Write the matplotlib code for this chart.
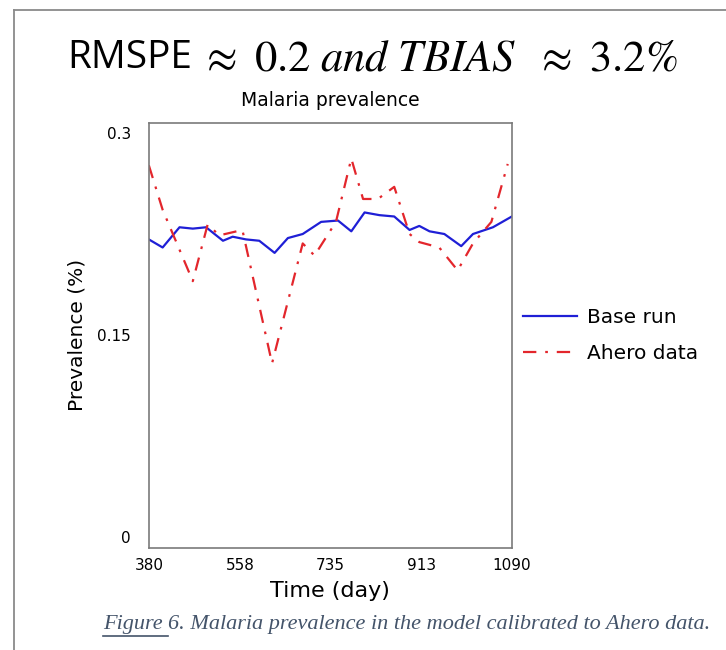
import matplotlib
matplotlib.use('Agg')
import matplotlib.pyplot as plt
from matplotlib.lines import Line2D

# model output (base run)
base_days = [380, 407, 440, 466, 492, 525, 544, 570, 596, 626, 652, 681, 717, 750,
             776, 802, 831, 860, 890, 909, 929, 958, 991, 1014, 1053, 1090]
base_prev = [0.221, 0.215, 0.230, 0.229, 0.230, 0.220, 0.223, 0.221, 0.220, 0.211,
             0.222, 0.225, 0.234, 0.235, 0.227, 0.241, 0.239, 0.238, 0.228, 0.231,
             0.227, 0.225, 0.216, 0.225, 0.230, 0.238]

# observed data (Ahero)
ahero_days = [380, 407, 466, 495, 518, 563, 621, 681, 704, 746, 776, 799, 828, 860,
              890, 909, 948, 984, 1014, 1050, 1082]
ahero_prev = [0.276, 0.243, 0.190, 0.232, 0.224, 0.228, 0.129, 0.218, 0.209, 0.234,
              0.281, 0.251, 0.251, 0.260, 0.225, 0.219, 0.215, 0.198, 0.218, 0.234, 0.277]

xticks = [380, 558, 735, 913, 1090]
yticks = [0, 0.15, 0.3]
ytick_labels = ['0', '0.15', '0.3']

plt.rcParams['font.family'] = ['DejaVu Sans']
plt.rcParams['mathtext.fontset'] = 'stix'

W, H = 726, 650
fig = plt.figure(figsize=(7.26, 6.5), dpi=100)
ax = fig.add_axes([0.205, 0.157, 0.5, 0.654])

ax.plot(base_days, base_prev, color='#1f1fd6', lw=1.6, label='Base run')
ax.plot(ahero_days, ahero_prev, color='#e3262c', lw=1.6,
        linestyle=(0, (6, 4, 1.2, 4)), label='Ahero data')

ax.set_xlim(380, 1090)
ax.set_ylim(-0.008, 0.3075)
ax.set_xticks(xticks)
ax.set_xticklabels([str(t) for t in xticks])
ax.set_yticks(yticks)
ax.set_yticklabels(ytick_labels)
ax.tick_params(length=0, labelsize=11)
ax.tick_params(axis='y', pad=13)
ax.tick_params(axis='x', pad=7)
for s in ax.spines.values():
    s.set_color('#7a7a7a')
    s.set_linewidth(1.2)

ax.set_title('Malaria prevalence', fontsize=13.5, pad=12)
ax.set_xlabel('Time (day)', fontsize=16, labelpad=6)
ax.set_ylabel('Prevalence (%)', fontsize=14.5)
ax.yaxis.set_label_coords(-0.171, 0.5)

ax.legend(loc='center left', bbox_to_anchor=(1.0, 0.5), frameon=False,
          fontsize=14.5, handlelength=2.7, handletextpad=0.5, labelspacing=0.85,
          borderaxespad=0.15)

# headline: sans word followed by the math part
head_y = 1 - 58 / H
fig.text(67 / W, head_y, 'RMSPE', fontsize=28, va='center', ha='left',
         family='Open Sans')
fig.text(200 / W, head_y, r'$\approx\ 0.2\ and\ TBIAS\ \ \approx\ 3.2\%$',
         fontsize=32, va='center', ha='left')

# caption with underlined "Figure"
cap_y = 1 - 625 / H
t1 = fig.text(103 / W, cap_y, 'Figure ', fontsize=16, style='italic',
              family='Liberation Serif', color='#44546a', va='center')
fig.canvas.draw()
bb = t1.get_window_extent()
fig.text(bb.x1 / W, cap_y, '6. Malaria prevalence in the model calibrated to Ahero data.',
         fontsize=16, style='italic', family='Liberation Serif', color='#44546a',
         va='center')
fig.add_artist(Line2D([bb.x0 / W, bb.x1 / W], [(bb.y0 - 1) / H] * 2,
                      color='#44546a', lw=1.2))

# page border
fig.add_artist(Line2D([14 / W, 14 / W], [0, 1 - 10 / H], color='#8a8a8a', lw=1.3))
fig.add_artist(Line2D([14 / W, 1], [1 - 10 / H] * 2, color='#8a8a8a', lw=1.3))

fig.savefig('out.png', dpi=100)
